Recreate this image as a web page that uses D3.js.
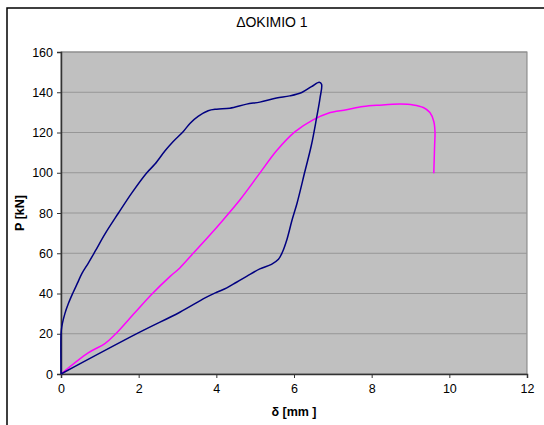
<!DOCTYPE html>
<html>
<head>
<meta charset="utf-8">
<script src="https://cdn.jsdelivr.net/npm/d3@7"></script>
<style>
  body { margin: 0; background: #fff; }
  svg { display: block; font-family: "Liberation Sans", Arial, sans-serif; }
</style>
</head>
<body>
<script>
// Blue curve: loading, then unloading back to origin
const blueX = [0, 0, 0.01, 0.035, 0.1, 0.19, 0.3, 0.42, 0.54, 0.7, 0.88, 1.13, 1.48, 1.82, 2.2, 2.42, 2.68, 2.89, 3.15, 3.32, 3.53, 3.79, 4.01, 4.35, 4.78, 5.12, 5.55, 5.89, 6.2, 6.45, 6.65, 6.71,
  6.67, 6.58, 6.45, 6.28, 6.08, 5.95, 5.82, 5.7, 5.6, 5.42, 5.12, 4.78, 4.52, 4.27, 4.01, 3.71, 3.06, 1.99, 0];
const blueY = [0, 19.6, 22, 25, 30, 35, 40, 45, 50, 55, 61, 69.5, 80, 89.9, 99.8, 104.3, 110.9, 115.5, 120.5, 124.5, 128, 130.8, 131.6, 132.1, 134.1, 135.1, 137.1, 138.2, 139.9, 142.8, 145, 144,
  137.1, 127.1, 113.9, 100.6, 85, 76.5, 67, 60.5, 57, 54.5, 52.2, 48.5, 45.6, 42.8, 40.6, 37.8, 30.7, 20.4, 0];

// Magenta curve
const pinkX = [0, 0.7, 1.13, 1.39, 1.9, 2.33, 2.81, 3.06, 3.41, 3.84, 4.18, 4.61, 5.12, 5.55, 6.02, 6.49, 6.88, 7.35, 7.78, 8.21, 8.73, 9.07, 9.33, 9.5, 9.6, 9.63, 9.62, 9.6];
const pinkY = [0, 10.5, 15.1, 19.6, 30.4, 39.5, 48.5, 52.7, 60.1, 69.2, 76.7, 86.6, 99.8, 110.9, 120.3, 126.3, 129.6, 131.3, 132.9, 133.6, 134.1, 133.7, 132.4, 129.9, 125.5, 120.5, 113, 99.8];

const xTicks = [0, 2, 4, 6, 8, 10, 12];
const yTicks = [0, 20, 40, 60, 80, 100, 120, 140, 160];

const width = 544, height = 425;
const margin = { top: 52, right: 17, bottom: 51, left: 61 };

const svg = d3.select("body").append("svg")
  .attr("width", width)
  .attr("height", height);

// chart frame
svg.append("rect")
  .attr("x", 7).attr("y", 8)
  .attr("width", 600).attr("height", 500)
  .attr("fill", "#fff")
  .attr("stroke", "#000")
  .attr("stroke-width", 1.5);

const x = d3.scaleLinear().domain([0, 12]).range([margin.left, width - margin.right]);
const y = d3.scaleLinear().domain([0, 160]).range([height - margin.bottom, margin.top]);

// plot background
svg.append("rect")
  .attr("x", x(0)).attr("y", y(160))
  .attr("width", x(12) - x(0)).attr("height", y(0) - y(160))
  .attr("fill", "#c0c0c0")
  .attr("stroke", "#808080")
  .attr("stroke-width", 1);

// gridlines
svg.append("g")
  .selectAll("line")
  .data(yTicks.filter(d => d > 0))
  .join("line")
  .attr("x1", x(0)).attr("x2", x(12))
  .attr("y1", d => y(d)).attr("y2", d => y(d))
  .attr("stroke", "#969696")
  .attr("stroke-width", 1.2);

// axes
const yAxis = svg.append("g")
  .attr("transform", `translate(${x(0)},0)`)
  .call(d3.axisLeft(y).tickValues(yTicks).tickSize(4).tickPadding(4));
const xAxis = svg.append("g")
  .attr("transform", `translate(0,${y(0)})`)
  .call(d3.axisBottom(x).tickValues(xTicks).tickSize(4).tickPadding(6));

[xAxis, yAxis].forEach(a => {
  a.select(".domain").attr("stroke", "#333").attr("stroke-width", 1.5);
  a.selectAll(".tick line").attr("stroke", "#333");
  a.selectAll(".tick text")
    .attr("fill", "#000")
    .style("font-size", "12.5px")
    .style("font-family", "\"Liberation Sans\", Arial, sans-serif");
});

// curves
const line = d3.line().x(d => x(d[0])).y(d => y(d[1])).curve(d3.curveCatmullRom.alpha(0.5));

svg.append("path")
  .datum(pinkX.map((v, i) => [v, pinkY[i]]))
  .attr("d", line)
  .attr("fill", "none")
  .attr("stroke", "#ff00ff")
  .attr("stroke-width", 1.5);

svg.append("path")
  .datum(blueX.map((v, i) => [v, blueY[i]]))
  .attr("d", line)
  .attr("fill", "none")
  .attr("stroke", "#000080")
  .attr("stroke-width", 1.5)
  .attr("stroke-linejoin", "round");

// titles
svg.append("text")
  .attr("x", 272).attr("y", 27)
  .attr("text-anchor", "middle")
  .style("font-size", "14px")
  .text("ΔΟΚΙΜΙΟ 1");

svg.append("text")
  .attr("transform", `translate(24,${(y(0) + y(160)) / 2}) rotate(-90)`)
  .attr("text-anchor", "middle")
  .style("font-size", "12.5px")
  .style("font-weight", "bold")
  .text("P [kN]");

svg.append("text")
  .attr("x", (x(0) + x(12)) / 2).attr("y", 416)
  .attr("text-anchor", "middle")
  .style("font-size", "12.5px")
  .style("font-weight", "bold")
  .text("δ [mm ]");
</script>
</body>
</html>
